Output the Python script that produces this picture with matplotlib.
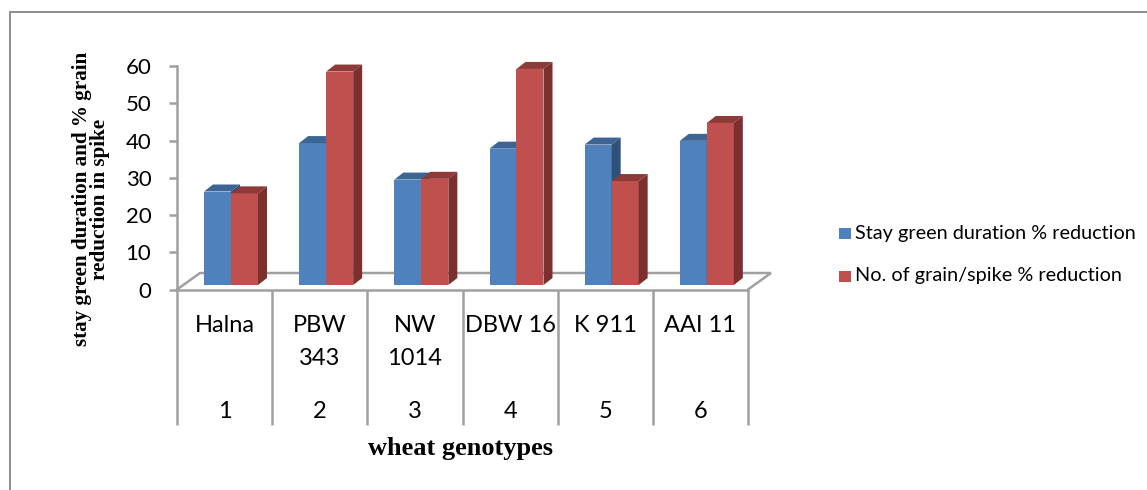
import matplotlib
matplotlib.use("Agg")
import matplotlib.pyplot as plt
from matplotlib.patches import Rectangle
from matplotlib.lines import Line2D

W, H = 1147, 490

genotypes = ["Halna", "PBW\n343", "NW\n1014", "DBW 16", "K 911", "AAI 11"]
numbers = ["1", "2", "3", "4", "5", "6"]
stay_green = [25.1, 38.1, 28.3, 36.6, 37.7, 38.7]
grain_spike = [24.6, 57.3, 28.5, 58.0, 27.9, 43.5]
y_ticks = [0, 10, 20, 30, 40, 50, 60]
legend_labels = ["Stay green duration % reduction", "No. of grain/spike % reduction"]

GREY = "#a0a0a0"
FRAME = "#8c8c8c"
BLUE = ("#4f81bd", "#3c6494", "#2f5078")
RED = ("#c0504d", "#8e3a38", "#7b2f2e")
sans = "Lato"
serif = "Liberation Serif"


def axes_px(fig, left, top, right, bottom):
    return fig.add_axes([left / W, 1 - bottom / H, (right - left) / W, (bottom - top) / H])


fig = plt.figure(figsize=(W / 100, H / 100), dpi=100)

# outer frame, only left and top are inside the picture
fig.add_artist(Line2D([10 / W, 10 / W, 1.01], [-0.01, 1 - 12 / H, 1 - 12 / H], transform=fig.transFigure,
                      color=FRAME, lw=1.4, solid_joinstyle="miter"))

# main axes, holds ticks and the floor
ax = axes_px(fig, 177, 66, 748, 289.5)
ax.set_xlim(0, 6)
ax.set_ylim(0, 60)
ax.patch.set_alpha(0)
for s in ["top", "right"]:
    ax.spines[s].set_visible(False)
for s in ["left", "bottom"]:
    ax.spines[s].set_color(GREY)
    ax.spines[s].set_linewidth(1.8)
ax.set_yticks(y_ticks)
ax.tick_params(axis="y", length=6, width=1.8, color=GREY, labelsize=16, pad=12.5)
ax.set_xticks(range(7))
ax.set_xticklabels([])
ax.tick_params(axis="x", which="major", length=97, width=1.8, color=GREY)
ax.set_xticks([i + 0.5 for i in range(6)], genotypes, minor=True)
ax.tick_params(axis="x", which="minor", length=0, labelsize=17, pad=18)
for label in ax.get_xticklabels(minor=True) + ax.get_yticklabels():
    label.set_fontfamily(sans)
    label.set_linespacing(1.75)
for i, n in enumerate(numbers):
    ax.annotate(n, (i + 0.5, 0), xytext=(0, -121.5 * 0.72), textcoords="offset points",
                ha="center", va="center", fontsize=17, family=sans)

# floor of the 3d box
fx = 23 / 95.17
fy = 16.5 / (223.5 / 60)
ax.plot([0, fx, 6 + fx, 6], [0, fy, fy, 0], color=GREY, lw=1.8, clip_on=False,
        solid_joinstyle="miter")

# bars sit a bit in from the front edge of the floor
bx = axes_px(fig, 177 + 27, 66 - 4.5, 748 + 27, 289.5 - 4.5)
bx.set_xlim(0, 6)
bx.set_ylim(0, 60)
bx.axis("off")
bw = 27 / 95.17
dx = 9 / 95.17
dy = 7 / (223.5 / 60)


def draw_bars(xs, values, cols):
    front, top, side = cols
    bx.bar(xs, values, width=bw, align="edge", color=front, lw=0, clip_on=False)
    for x, v in zip(xs, values):
        bx.fill([x, x + dx, x + bw + dx, x + bw], [v, v + dy, v + dy, v], color=top, lw=0, clip_on=False)
        bx.fill([x + bw, x + bw + dx, x + bw + dx, x + bw], [0, dy, v + dy, v], color=side, lw=0, clip_on=False)


draw_bars([i for i in range(6)], stay_green, BLUE)
draw_bars([i + bw for i in range(6)], grain_spike, RED)

# axis titles
fig.text(91 / W, 1 - 199 / H, "stay green duration and % grain\nreduction in spike", rotation=90,
         ha="center", va="center", multialignment="center", family=serif, weight="bold",
         fontsize=15.2, linespacing=0.88)
fig.text(461 / W, 1 - 448 / H, "wheat genotypes", ha="center", va="center", family=serif,
         weight="bold", fontsize=19)

# legend
for y, lab, c in zip([234, 276], legend_labels, [BLUE[0], RED[0]]):
    fig.add_artist(Rectangle((839 / W, 1 - (y + 5.5) / H), 11.5 / W, 11 / H, transform=fig.transFigure,
                             facecolor=c, edgecolor="none"))
    fig.text(855 / W, 1 - y / H, lab, ha="left", va="center", family=sans, fontsize=14.3)

fig.savefig("out.png", dpi=100)
